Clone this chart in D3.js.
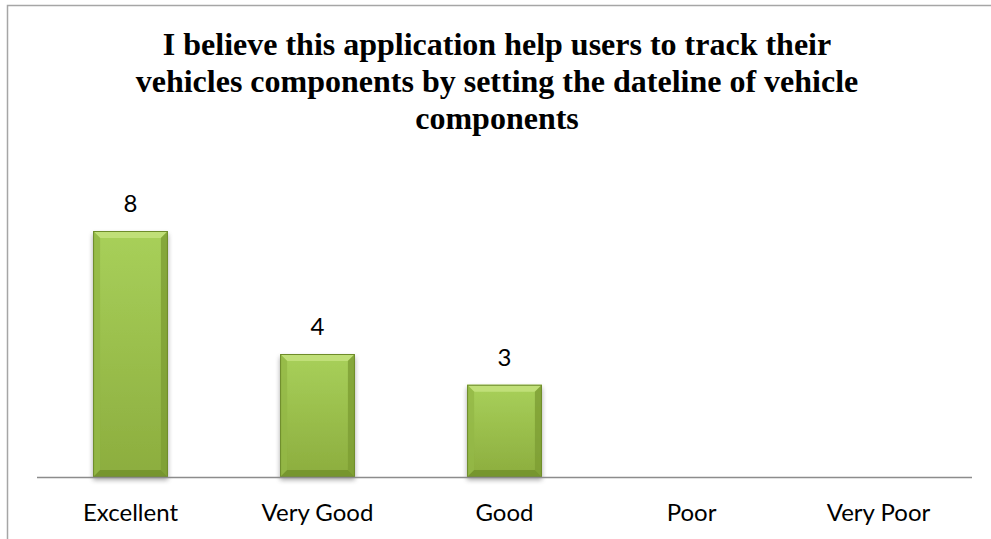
<!DOCTYPE html>
<html>
<head>
<meta charset="utf-8">
<script src="https://cdn.jsdelivr.net/npm/d3@7/dist/d3.min.js"></script>
<style>
  html, body { margin: 0; padding: 0; background: #fff; }
  svg { display: block; }
</style>
</head>
<body>
<svg id="chart" width="991" height="539"></svg>
<script>
// Survey responses
const categories = ["Excellent", "Very Good", "Good", "Poor", "Very Poor"];
const counts = [8, 4, 3, null, null];
const titleLines = [
  "I believe this application help users to track their",
  "vehicles components by setting the dateline of vehicle",
  "components"
];

const W = 991, H = 539;
const margin = { left: 37, right: 19, top: 200, bottom: 62 };
const svg = d3.select("#chart");

// Chart frame (clipped by the page on the right and bottom)
svg.append("path")
  .attr("d", `M7.5,${H + 5} L7.5,5.5 L${W + 5},5.5`)
  .attr("fill", "none")
  .attr("stroke", "#a6a6a6")
  .attr("stroke-width", 1.5);

const x = d3.scaleBand()
  .domain(categories)
  .range([margin.left, W - margin.right])
  .paddingInner(0.6)
  .paddingOuter(0.3);

const y = d3.scaleLinear()
  .domain([0, 8])
  .range([H - margin.bottom, H - margin.bottom - 246]);

const defs = svg.append("defs");
const grad = defs.append("linearGradient")
  .attr("id", "barFill").attr("x1", 0).attr("y1", 0).attr("x2", 0).attr("y2", 1);
grad.append("stop").attr("offset", "0%").attr("stop-color", "#a8d05a");
grad.append("stop").attr("offset", "100%").attr("stop-color", "#8cad3e");

const shadow = defs.append("filter").attr("id", "shadow")
  .attr("x", "-20%").attr("y", "-10%").attr("width", "140%").attr("height", "130%");
shadow.append("feGaussianBlur").attr("in", "SourceAlpha").attr("stdDeviation", 2.5);
shadow.append("feOffset").attr("dx", 0).attr("dy", 3).attr("result", "b");
shadow.append("feComponentTransfer").append("feFuncA").attr("type", "linear").attr("slope", 0.35);
const merge = shadow.append("feMerge");
merge.append("feMergeNode");
merge.append("feMergeNode").attr("in", "SourceGraphic");

// Title
const title = svg.append("text")
  .attr("text-anchor", "middle")
  .attr("font-family", "'Liberation Serif', 'Times New Roman', serif")
  .attr("font-weight", "bold")
  .attr("font-size", 32)
  .attr("fill", "#000");
titleLines.forEach((line, i) => {
  title.append("tspan").attr("x", 497).attr("y", 55 + i * 37).text(line);
});

// Bars with bevelled edges
const data = categories.map((c, i) => ({ cat: c, v: counts[i] })).filter(d => d.v != null);
const bevel = 7;

const bars = svg.append("g").selectAll("g").data(data).join("g")
  .attr("filter", "url(#shadow)");

bars.each(function(d) {
  const g = d3.select(this);
  const x0 = x(d.cat), x1 = x0 + x.bandwidth();
  const y0 = y(d.v), y1 = y(0);
  g.append("rect")
    .attr("x", x0).attr("y", y0)
    .attr("width", x1 - x0).attr("height", y1 - y0)
    .attr("fill", "url(#barFill)");
  // top bevel (light)
  g.append("path")
    .attr("d", `M${x0},${y0} L${x1},${y0} L${x1 - bevel},${y0 + bevel} L${x0 + bevel},${y0 + bevel} Z`)
    .attr("fill", "#c4e27e").attr("opacity", 0.85);
  // left bevel
  g.append("path")
    .attr("d", `M${x0},${y0} L${x0 + bevel},${y0 + bevel} L${x0 + bevel},${y1 - bevel} L${x0},${y1} Z`)
    .attr("fill", "#93b846").attr("opacity", 0.8);
  // right bevel (darker)
  g.append("path")
    .attr("d", `M${x1},${y0} L${x1 - bevel},${y0 + bevel} L${x1 - bevel},${y1 - bevel} L${x1},${y1} Z`)
    .attr("fill", "#7d9d33").attr("opacity", 0.8);
  // bottom bevel
  g.append("path")
    .attr("d", `M${x0},${y1} L${x0 + bevel},${y1 - bevel} L${x1 - bevel},${y1 - bevel} L${x1},${y1} Z`)
    .attr("fill", "#6f8e2a").attr("opacity", 0.75);
  g.append("rect")
    .attr("x", x0 + 0.5).attr("y", y0 + 0.5)
    .attr("width", x1 - x0 - 1).attr("height", y1 - y0 - 1)
    .attr("fill", "none").attr("stroke", "#6e8c2c").attr("stroke-width", 1);
});

// Value labels
svg.append("g").selectAll("text").data(data).join("text")
  .attr("x", d => x(d.cat) + x.bandwidth() / 2)
  .attr("y", d => y(d.v) - 19)
  .attr("text-anchor", "middle")
  .attr("font-family", "Lato, 'Open Sans', sans-serif")
  .attr("font-size", 24)
  .attr("fill", "#000")
  .text(d => d.v);

// Category axis
const axis = svg.append("g")
  .attr("transform", `translate(0,${y(0)})`)
  .call(d3.axisBottom(x).tickSize(0).tickPadding(27));
axis.select(".domain")
  .attr("d", `M${margin.left},0.5 H${W - margin.right}`)
  .attr("stroke", "#8c8c8c").attr("stroke-width", 1.5);
axis.selectAll("text")
  .attr("font-family", "Lato, 'Open Sans', sans-serif")
  .attr("font-size", 24)
  .attr("fill", "#000");
</script>
</body>
</html>
